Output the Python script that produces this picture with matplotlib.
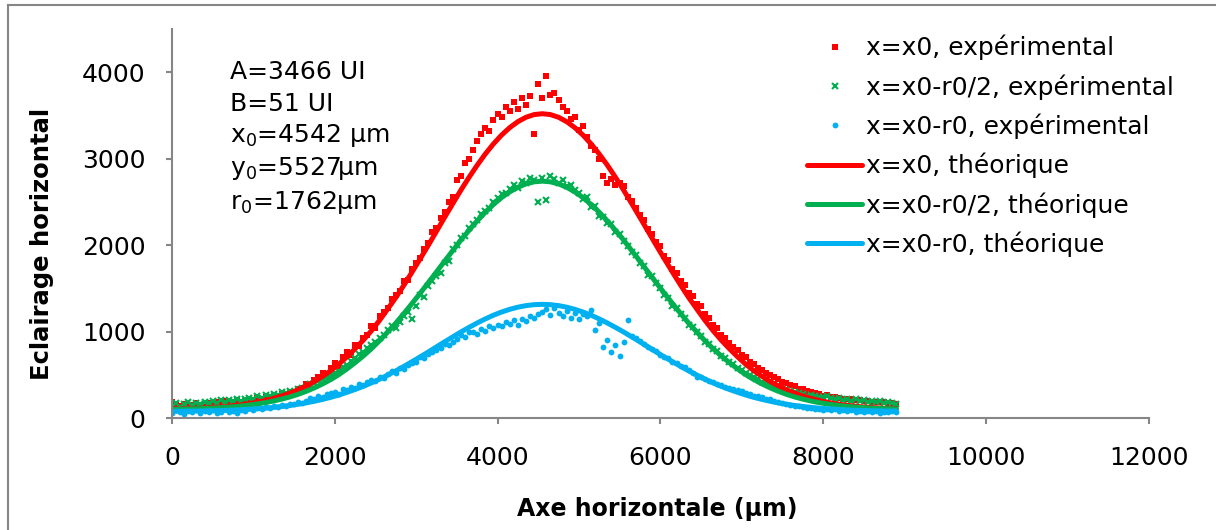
import numpy as np
import matplotlib.pyplot as plt
from matplotlib.lines import Line2D

# positions (um) : mesures tous les 50 um, courbes theoriques tous les 100 um
x_exp = np.arange(0, 8901, 50)
x_theo = [0] + list(range(50, 8851, 100)) + [8900]

# Eclairage mesure (UI)
red_exp = [190, 150, 140, 165, 135, 150, 170, 145, 160, 175,
           150, 185, 165, 200, 175, 190, 210, 185, 200, 220,
           205, 230, 215, 245, 230, 260, 250, 280, 270, 305,
           290, 330, 350, 395, 380, 440, 470, 520, 490, 580,
           640, 600, 700, 760, 730, 850, 830, 930, 960, 1060,
           1040, 1180, 1230, 1270, 1380, 1420, 1470, 1580, 1600, 1720,
           1790, 1850, 1960, 2020, 2150, 2200, 2310, 2380, 2500, 2560,
           2750, 2800, 2950, 3000, 3100, 3200, 3280, 3350, 3320, 3450,
           3520, 3480, 3600, 3550, 3650, 3580, 3700, 3620, 3720, 3280,
           3860, 3700, 3960, 3740, 3760, 3680, 3600, 3550, 3460, 3480,
           3330, 3380, 3250, 3150, 3100, 3000, 2800, 2720, 2760, 2700,
           2720, 2680, 2560, 2510, 2430, 2350, 2290, 2190, 2130, 2040,
           1990, 1870, 1830, 1720, 1680, 1590, 1540, 1450, 1410, 1320,
           1290, 1200, 1160, 1080, 1040, 960, 930, 870, 820, 790,
           730, 700, 650, 630, 580, 560, 520, 500, 470, 450,
           420, 410, 380, 370, 340, 330, 310, 305, 285, 280,
           260, 265, 245, 240, 230, 225, 215, 220, 205, 210,
           195, 200, 185, 190, 180, 185, 170, 175, 160]

green_exp = [140, 170, 130, 160, 185, 150, 175, 160, 190, 170,
             195, 175, 205, 185, 210, 195, 225, 200, 215, 235,
             220, 250, 235, 265, 250, 280, 270, 300, 285, 310,
             300, 330, 345, 360, 390, 410, 430, 455, 470, 500,
             520, 545, 590, 610, 660, 690, 740, 760, 810, 840,
             880, 930, 960, 1020, 1060, 1040, 1110, 1180, 1230, 1150,
             1300, 1420, 1400, 1530, 1580, 1640, 1680, 1790, 1820, 1950,
             2000, 2080, 2100, 2200, 2240, 2290, 2360, 2400, 2430, 2500,
             2540, 2590, 2600, 2650, 2700, 2660, 2740, 2720, 2780, 2750,
             2500, 2780, 2520, 2800, 2760, 2720, 2750, 2680, 2700, 2640,
             2600, 2530, 2560, 2440, 2450, 2340, 2330, 2260, 2240, 2150,
             2130, 2050, 1990, 1920, 1880, 1790, 1760, 1660, 1640, 1560,
             1500, 1420, 1390, 1300, 1270, 1200, 1160, 1080, 1050, 990,
             950, 880, 860, 800, 770, 720, 690, 650, 620, 580,
             560, 520, 500, 470, 450, 420, 400, 380, 370, 350,
             340, 320, 310, 300, 285, 280, 260, 270, 250, 245,
             240, 250, 230, 220, 235, 210, 225, 200, 215, 195,
             205, 190, 200, 180, 195, 175, 185, 170, 160]

blue_exp = [60, 95, 70, 50, 85, 65, 100, 55, 80, 70,
            90, 60, 75, 105, 70, 85, 60, 95, 80, 110,
            90, 120, 100, 130, 115, 140, 125, 150, 135, 165,
            160, 185, 175, 200, 230, 215, 250, 240, 275, 290,
            300, 280, 330, 320, 360, 350, 390, 380, 420, 440,
            430, 470, 460, 510, 540, 520, 580, 570, 610, 640,
            650, 700, 690, 740, 760, 790, 810, 860, 850, 880,
            910, 960, 940, 990, 1000, 970, 1030, 1010, 1060, 1040,
            1080, 1060, 1110, 1090, 1130, 1080, 1150, 1120, 1180, 1160,
            1200, 1230, 1260, 1190, 1270, 1220, 1180, 1240, 1160, 1210,
            1150, 1200, 1180, 1250, 1020, 1100, 820, 900, 760, 850,
            720, 880, 1130, 950, 920, 890, 860, 820, 800, 770,
            730, 700, 690, 650, 640, 600, 590, 550, 520, 470,
            470, 450, 430, 420, 390, 380, 360, 350, 330, 320,
            310, 290, 280, 260, 250, 240, 225, 215, 200, 190,
            175, 160, 150, 140, 135, 125, 120, 110, 105, 100,
            95, 105, 90, 100, 85, 95, 80, 90, 75, 85,
            70, 80, 65, 85, 60, 75, 70, 80, 65]

# Courbes theoriques
red_theo = [102, 103, 106, 109, 112, 118, 124, 131, 141, 152, 166, 183, 203, 227, 255,
            289, 327, 372, 423, 482, 547, 622, 708, 801, 900, 1009, 1129, 1260, 1393,
            1537, 1688, 1842, 1999, 2160, 2321, 2479, 2636, 2784, 2924, 3054, 3171, 3273,
            3359, 3428, 3479, 3510, 3520,
            3510, 3479, 3428, 3359, 3273, 3171, 3054, 2924, 2784, 2636, 2479, 2321, 2160,
            1999, 1842, 1688, 1537, 1393, 1260, 1129, 1009, 900, 801, 708, 622, 547, 482,
            423, 372, 327, 289, 255, 227, 203, 183, 166, 152, 141, 131, 124, 118, 112, 109, 107]

green_theo = [100, 101, 103, 106, 108, 112, 117, 123, 130, 139, 150, 163, 178, 197, 219,
              244, 274, 309, 349, 394, 444, 502, 568, 640, 717, 801, 894, 994, 1097,
              1209, 1325, 1444, 1566, 1690, 1814, 1936, 2058, 2171, 2280, 2380, 2470, 2550,
              2616, 2669, 2708, 2732, 2740,
              2732, 2708, 2669, 2616, 2550, 2470, 2380, 2280, 2171, 2058, 1936, 1814, 1690,
              1566, 1444, 1325, 1209, 1097, 994, 894, 801, 717, 640, 568, 502, 444, 394,
              349, 309, 274, 244, 219, 197, 178, 163, 150, 139, 130, 123, 117, 112, 108, 106, 105]

blue_theo = [77, 78, 79, 80, 81, 83, 85, 88, 91, 96, 101, 107, 114, 123, 133,
             145, 159, 175, 194, 215, 239, 266, 297, 330, 366, 406, 449, 497, 545,
             597, 652, 707, 764, 823, 881, 938, 995, 1048, 1099, 1146, 1189, 1226,
             1257, 1282, 1300, 1311, 1315,
             1311, 1300, 1282, 1257, 1226, 1189, 1146, 1099, 1048, 995, 938, 881, 823,
             764, 707, 652, 597, 545, 497, 449, 406, 366, 330, 297, 266, 239, 215,
             194, 175, 159, 145, 133, 123, 114, 107, 101, 96, 91, 88, 85, 83, 81, 80, 80]

params = ["A=3466 UI", "B=51 UI", "x$_0$=4542 µm", "y$_0$=5527µm", "r$_0$=1762µm"]

ROUGE = "#FF0000"
VERT = "#00B050"
BLEU = "#00B0F0"
GRIS = "#868686"

plt.rcParams['font.family'] = ['DejaVu Sans']
plt.rcParams['font.size'] = 18

W, H = 1216, 530
fig = plt.figure(figsize=(W / 100, H / 100), dpi=100)
ax = fig.add_axes([172 / W, (H - 418) / H, 976.5 / W, 389 / H])

ax.plot(x_exp, red_exp, 's', color=ROUGE, ms=4.8, mew=0, label="x=x0, expérimental")
ax.plot(x_exp, green_exp, 'x', color=VERT, ms=4.4, mew=1.5, label="x=x0-r0/2, expérimental")
ax.plot(x_exp, blue_exp, 'o', color=BLEU, ms=4.2, mew=0, label="x=x0-r0, expérimental")
ax.plot(x_theo, red_theo, '-', color=ROUGE, lw=3.6, solid_capstyle='round', label="x=x0, théorique")
ax.plot(x_theo, green_theo, '-', color=VERT, lw=3.6, solid_capstyle='round', label="x=x0-r0/2, théorique")
ax.plot(x_theo, blue_theo, '-', color=BLEU, lw=3.6, solid_capstyle='round', label="x=x0-r0, théorique")

ax.set_xlim(0, 12000)
ax.set_ylim(0, 4500)
ax.set_xticks(range(0, 12001, 2000))
ax.set_yticks(range(0, 4001, 1000))

for s in ['top', 'right']:
    ax.spines[s].set_visible(False)
for s in ['left', 'bottom']:
    ax.spines[s].set_color(GRIS)
    ax.spines[s].set_linewidth(1.5)
ax.tick_params(axis='both', direction='out', length=4, width=1.5, color=GRIS)
ax.tick_params(axis='x', pad=16)
ax.tick_params(axis='y', pad=15)

ax.set_xlabel("Axe horizontale (µm)", fontweight='bold', fontsize=17)
ax.xaxis.set_label_coords((657 - 172) / 976.5, (418 - 497) / 389)
ax.set_ylabel("Eclairage horizontal", fontweight='bold', fontsize=17.5)
ax.yaxis.set_label_coords((54 - 172) / 976.5, (418 - 244) / 389)

# parametres de l'ajustement
ys = [72, 104, 136, 169, 202]
for txt, yp in zip(params, ys):
    fig.text(230 / W, 1 - yp / H, txt, ha='left', va='center', fontsize=18)

ax.legend(loc='upper left', bbox_to_anchor=(807 / W, 1 - 35 / H), bbox_transform=fig.transFigure,
          frameon=False, numpoints=1, borderpad=0, borderaxespad=0, handlelength=2.2,
          handletextpad=0.15, labelspacing=0.55, fontsize=18, markerscale=1.0)

# cadre du graphique (haut et gauche seulement)
fig.add_artist(Line2D([8 / W, 8 / W], [0, 1 - 5 / H], color=GRIS, lw=1.5, transform=fig.transFigure))
fig.add_artist(Line2D([8 / W, 1], [1 - 5 / H, 1 - 5 / H], color=GRIS, lw=1.5, transform=fig.transFigure))

fig.savefig("out.png", dpi=100)
